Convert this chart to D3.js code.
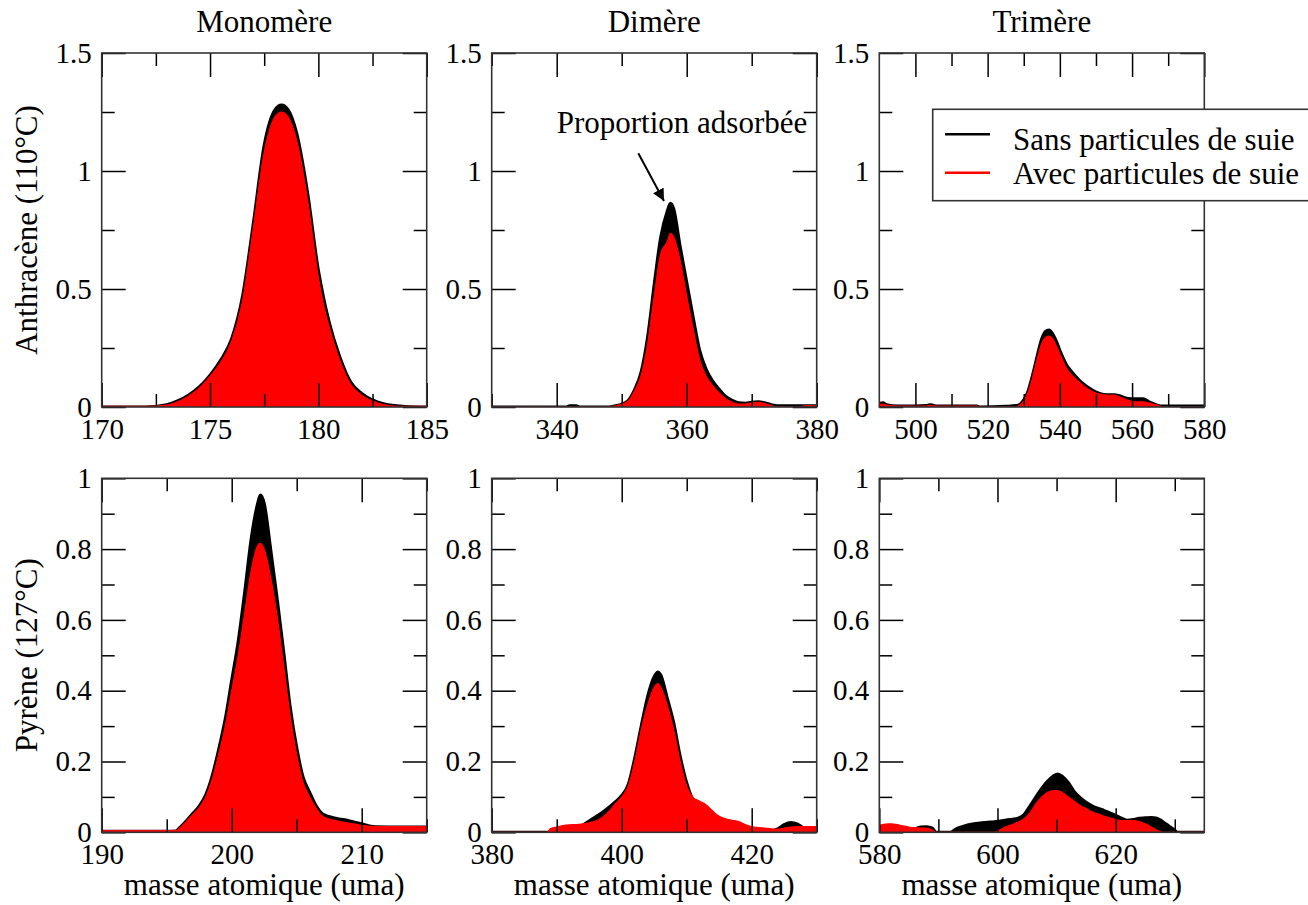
<!DOCTYPE html>
<html>
<head>
<meta charset="utf-8">
<script src="https://cdn.jsdelivr.net/npm/d3@7"></script>
<style>
  html, body { margin: 0; padding: 0; background: #fff; }
  svg { display: block; }
  text { font-family: "Liberation Serif", "Times New Roman", serif; fill: #000; }
</style>
</head>
<body>
<svg id="chart" width="1308" height="905"></svg>
<script>
// ---------------- DATA ----------------
const columnTitles = ["Monomère", "Dimère", "Trimère"];
const rowTitles = ["Anthracène (110°C)", "Pyrène (127°C)"];
const seriesNames = ["Sans particules de suie", "Avec particules de suie"];
const xAxisTitle = "masse atomique (uma)";
const annotationText = "Proportion adsorbée";

// Anthracène – monomère
const antMonoMass = [170, 172, 173, 173.5, 174, 174.5, 175, 175.5, 176, 176.5, 177, 177.5, 178, 178.3, 178.6, 179, 179.5, 180, 180.25, 180.5, 181, 181.5, 182, 182.5, 183, 183.5, 184, 185];
const antMonoSans = [0, 0, 0.01, 0.026, 0.05, 0.085, 0.135, 0.2, 0.29, 0.47, 0.78, 1.11, 1.26, 1.28, 1.26, 1.16, 0.91, 0.58, 0.46, 0.36, 0.21, 0.105, 0.058, 0.03, 0.014, 0.006, 0.002, 0];
const antMonoAvec = [0.003, 0.003, 0.008, 0.022, 0.046, 0.08, 0.13, 0.19, 0.28, 0.45, 0.76, 1.08, 1.23, 1.25, 1.23, 1.13, 0.88, 0.55, 0.43, 0.34, 0.195, 0.095, 0.05, 0.025, 0.01, 0.004, 0.003, 0.003];

// Anthracène – dimère
const antDimMass = [330, 341.5, 342, 343, 343.5, 348, 349, 350, 351, 352, 353, 354, 355, 356, 357, 357.5, 358, 359, 360, 361, 362, 363, 364, 365, 366, 367, 368, 369, 370, 371, 372, 373, 374, 377.5, 378, 380];
const antDimSans = [0, 0, 0.005, 0.005, 0, 0, 0.005, 0.012, 0.028, 0.075, 0.15, 0.3, 0.52, 0.72, 0.83, 0.863, 0.84, 0.68, 0.53, 0.38, 0.24, 0.16, 0.11, 0.075, 0.045, 0.028, 0.018, 0.016, 0.02, 0.022, 0.018, 0.01, 0.005, 0.005, 0.005, 0.005];
const antDimAvec = [0, 0, 0, 0, 0, 0, 0.005, 0.012, 0.025, 0.07, 0.135, 0.27, 0.47, 0.65, 0.7, 0.736, 0.72, 0.62, 0.47, 0.33, 0.2, 0.13, 0.09, 0.06, 0.035, 0.02, 0.012, 0.012, 0.018, 0.02, 0.015, 0.006, 0, 0, 0.005, 0.005];

// Anthracène – trimère
const antTriMass = [490, 491, 492, 495, 500, 503, 504, 505, 506, 510, 517, 518, 525, 528, 529, 530, 531, 532, 533, 534, 535, 536, 537, 538, 539, 540, 541, 542, 543, 545, 547, 549, 551, 553, 555, 557, 559, 561, 563, 565, 567, 568.5, 571, 579.5, 580];
const antTriSans = [0.015, 0.018, 0.01, 0.004, 0.004, 0.006, 0.01, 0.007, 0.004, 0.004, 0.004, 0, 0.003, 0.006, 0.012, 0.03, 0.06, 0.11, 0.17, 0.235, 0.29, 0.32, 0.326, 0.31, 0.28, 0.24, 0.205, 0.175, 0.155, 0.12, 0.092, 0.072, 0.058, 0.052, 0.052, 0.045, 0.036, 0.035, 0.035, 0.02, 0.008, 0.004, 0.004, 0.004, 0.004];
const antTriAvec = [0.01, 0.012, 0.008, 0.004, 0.004, 0.004, 0.007, 0.005, 0.004, 0.004, 0.004, 0, 0, 0, 0.01, 0.025, 0.055, 0.1, 0.16, 0.22, 0.27, 0.295, 0.3, 0.29, 0.26, 0.225, 0.19, 0.16, 0.14, 0.11, 0.085, 0.065, 0.055, 0.05, 0.05, 0.04, 0.028, 0.022, 0.022, 0.016, 0.008, 0, 0, 0, 0];

// Pyrène – monomère
const pyrMonoMass = [190, 195, 195.7, 196, 196.5, 197, 197.5, 198, 198.5, 199, 199.5, 200, 200.5, 201, 201.5, 202, 202.2, 202.5, 203, 203.5, 204, 204.5, 205, 205.5, 206, 206.5, 207, 208, 209, 210, 211, 213, 215];
const pyrMonoSans = [0.003, 0.003, 0.004, 0.013, 0.032, 0.053, 0.074, 0.106, 0.16, 0.235, 0.32, 0.43, 0.54, 0.68, 0.83, 0.93, 0.953, 0.93, 0.8, 0.66, 0.51, 0.355, 0.24, 0.155, 0.113, 0.075, 0.052, 0.04, 0.033, 0.024, 0.016, 0.015, 0.015];
const pyrMonoAvec = [0.005, 0.005, 0.005, 0.012, 0.03, 0.05, 0.07, 0.1, 0.15, 0.22, 0.3, 0.4, 0.5, 0.62, 0.74, 0.81, 0.816, 0.8, 0.72, 0.61, 0.47, 0.33, 0.22, 0.14, 0.1, 0.068, 0.045, 0.033, 0.026, 0.02, 0.016, 0.016, 0.016];

// Pyrène – dimère
const pyrDimMass = [380, 388.5, 389, 390, 391, 392, 393, 394, 395, 396, 397, 398, 399, 400, 401, 402, 403, 404, 405, 405.6, 406, 407, 408, 409, 410, 411, 412, 413, 414, 415, 416, 417, 418, 419, 420, 421, 422, 423, 424, 425, 426, 427, 428, 429, 430];
const pyrDimSans = [0, 0, 0, 0, 0, 0, 0, 0.02, 0.032, 0.044, 0.056, 0.07, 0.086, 0.104, 0.135, 0.21, 0.3, 0.385, 0.44, 0.453, 0.445, 0.38, 0.31, 0.215, 0.14, 0.09, 0.07, 0.055, 0.04, 0.03, 0.02, 0.015, 0.012, 0.01, 0.008, 0.006, 0.005, 0.005, 0.01, 0.022, 0.028, 0.024, 0.012, 0.005, 0];
const pyrDimAvec = [0, 0, 0.01, 0.015, 0.019, 0.021, 0.022, 0.024, 0.027, 0.032, 0.042, 0.058, 0.08, 0.1, 0.13, 0.2, 0.29, 0.36, 0.41, 0.42, 0.41, 0.36, 0.29, 0.2, 0.13, 0.098, 0.088, 0.077, 0.06, 0.045, 0.038, 0.034, 0.03, 0.022, 0.016, 0.013, 0.012, 0.01, 0.009, 0.012, 0.015, 0.016, 0.016, 0.016, 0.016];

// Pyrène – trimère
const pyrTriMass = [580, 581, 582, 583, 584, 585, 586, 587, 588, 589, 589.6, 592, 593, 594, 596, 598, 599.5, 600.5, 601.5, 602.5, 603.5, 604.5, 605.5, 606.5, 607.5, 608.5, 609.5, 610.2, 611, 612, 613, 614, 615, 616, 617, 618, 619, 620, 621, 622, 623, 624, 625, 626, 627, 628, 629, 630, 630.5, 635];
const pyrTriSans = [0, 0, 0, 0, 0, 0.005, 0.01, 0.015, 0.016, 0.012, 0, 0, 0.01, 0.016, 0.024, 0.028, 0.03, 0.032, 0.035, 0.037, 0.04, 0.05, 0.075, 0.1, 0.125, 0.145, 0.16, 0.165, 0.158, 0.14, 0.115, 0.098, 0.085, 0.075, 0.068, 0.062, 0.055, 0.048, 0.04, 0.034, 0.036, 0.04, 0.041, 0.042, 0.04, 0.03, 0.018, 0.006, 0, 0];
const pyrTriAvec = [0.02, 0.023, 0.024, 0.022, 0.018, 0.015, 0.013, 0.012, 0.012, 0.006, 0, 0, 0, 0, 0, 0, 0, 0.008, 0.016, 0.022, 0.029, 0.038, 0.055, 0.08, 0.1, 0.113, 0.118, 0.118, 0.112, 0.1, 0.088, 0.076, 0.067, 0.058, 0.052, 0.046, 0.041, 0.036, 0.033, 0.033, 0.033, 0.03, 0.024, 0.015, 0.006, 0, 0, 0, 0, 0];

// Axis ranges and ticks
const xDomainsTop = [[170, 185], [330, 380], [490, 580]];
const xDomainsBottom = [[190, 215], [380, 430], [580, 635]];
const xMajorTop = [[170, 175, 180, 185], [340, 360, 380], [500, 520, 540, 560, 580]];
const xMinorTop = [[172.5, 177.5, 182.5], [330, 350, 370], [510, 530, 550, 570]];
const xMajorBottom = [[190, 200, 210], [380, 400, 420], [580, 600, 620]];
const xMinorBottom = [[195, 205, 215], [390, 410, 430], [590, 610, 630]];
const yDomainTop = [0, 1.5];
const yDomainBottom = [0, 1];
const yMajorTop = [0, 0.5, 1, 1.5];
const yMinorTop = [0.25, 0.75, 1.25];
const yMajorBottom = [0, 0.2, 0.4, 0.6, 0.8, 1];
const yMinorBottom = [0.1, 0.3, 0.5, 0.7, 0.9];

// ---------------- LAYOUT ----------------
const svg = d3.select("#chart");
const colX = [101.7, 491.7, 879.3];
const panelW = 325;
const rowY = [53, 478.3];
const panelH = 354;
const colors = { sans: "#000000", avec: "#ff0000" };
const tickFont = 29, labelFont = 31;

const panels = [
  { r: 0, c: 0, mass: antMonoMass, sans: antMonoSans, avec: antMonoAvec, xd: xDomainsTop[0], xM: xMajorTop[0], xm: xMinorTop[0] },
  { r: 0, c: 1, mass: antDimMass, sans: antDimSans, avec: antDimAvec, xd: xDomainsTop[1], xM: xMajorTop[1], xm: xMinorTop[1] },
  { r: 0, c: 2, mass: antTriMass, sans: antTriSans, avec: antTriAvec, xd: xDomainsTop[2], xM: xMajorTop[2], xm: xMinorTop[2] },
  { r: 1, c: 0, mass: pyrMonoMass, sans: pyrMonoSans, avec: pyrMonoAvec, xd: xDomainsBottom[0], xM: xMajorBottom[0], xm: xMinorBottom[0] },
  { r: 1, c: 1, mass: pyrDimMass, sans: pyrDimSans, avec: pyrDimAvec, xd: xDomainsBottom[1], xM: xMajorBottom[1], xm: xMinorBottom[1] },
  { r: 1, c: 2, mass: pyrTriMass, sans: pyrTriSans, avec: pyrTriAvec, xd: xDomainsBottom[2], xM: xMajorBottom[2], xm: xMinorBottom[2] }
];

const fmt = d3.format("~g");

function styleAxis(g, showText) {
  g.attr("font-family", null).attr("font-size", null);
  g.select(".domain").remove();
  g.selectAll(".tick line").attr("stroke", "#000").attr("stroke-width", 1.5);
  g.selectAll(".tick text").style("font-size", tickFont + "px").attr("fill", "#000");
  if (!showText) g.selectAll(".tick text").remove();
}

panels.forEach((p, i) => {
  const x0 = colX[p.c], y0 = rowY[p.r];
  const yd = p.r === 0 ? yDomainTop : yDomainBottom;
  const yM = p.r === 0 ? yMajorTop : yMajorBottom;
  const ym = p.r === 0 ? yMinorTop : yMinorBottom;
  const x = d3.scaleLinear().domain(p.xd).range([0, panelW]);
  const y = d3.scaleLinear().domain(yd).range([panelH, 0]);
  const g = svg.append("g").attr("transform", `translate(${x0},${y0})`);

  svg.append("defs").append("clipPath").attr("id", "clip" + i)
    .append("rect").attr("x", 0).attr("y", 0).attr("width", panelW).attr("height", panelH);

  const plot = g.append("g").attr("clip-path", `url(#clip${i})`);
  const idx = d3.range(p.mass.length);
  const areaS = d3.area().curve(d3.curveMonotoneX).x(j => x(p.mass[j])).y0(y(0)).y1(j => y(p.sans[j]));
  const lineS = d3.line().curve(d3.curveMonotoneX).x(j => x(p.mass[j])).y(j => y(p.sans[j]));
  const areaA = d3.area().curve(d3.curveMonotoneX).x(j => x(p.mass[j])).y0(y(0)).y1(j => y(p.avec[j]));
  const lineA = d3.line().curve(d3.curveMonotoneX).x(j => x(p.mass[j])).y(j => y(p.avec[j]));

  plot.append("path").datum(idx).attr("d", areaS).attr("fill", colors.sans);
  plot.append("path").datum(idx).attr("d", lineS).attr("fill", "none").attr("stroke", colors.sans).attr("stroke-width", 3);
  plot.append("path").datum(idx).attr("d", areaA).attr("fill", colors.avec);
  plot.append("path").datum(idx).attr("d", lineA).attr("fill", "none").attr("stroke", colors.avec).attr("stroke-width", 1.2);

  // axes: bottom (labels), top, left (labels), right
  g.append("g").attr("transform", `translate(0,${panelH})`)
    .call(d3.axisBottom(x).tickValues(p.xM).tickSize(-24).tickPadding(11).tickFormat(fmt))
    .call(a => styleAxis(a, true));
  g.append("g").attr("transform", `translate(0,${panelH})`)
    .call(d3.axisBottom(x).tickValues(p.xm).tickSize(-13).tickFormat(""))
    .call(a => styleAxis(a, false));
  g.append("g")
    .call(d3.axisTop(x).tickValues(p.xM).tickSize(-24).tickFormat(""))
    .call(a => styleAxis(a, false));
  g.append("g")
    .call(d3.axisTop(x).tickValues(p.xm).tickSize(-13).tickFormat(""))
    .call(a => styleAxis(a, false));
  g.append("g")
    .call(d3.axisLeft(y).tickValues(yM).tickSize(-24).tickPadding(10).tickFormat(fmt))
    .call(a => styleAxis(a, true));
  g.append("g")
    .call(d3.axisLeft(y).tickValues(ym).tickSize(-13).tickFormat(""))
    .call(a => styleAxis(a, false));
  g.append("g").attr("transform", `translate(${panelW},0)`)
    .call(d3.axisRight(y).tickValues(yM).tickSize(-24).tickFormat(""))
    .call(a => styleAxis(a, false));
  g.append("g").attr("transform", `translate(${panelW},0)`)
    .call(d3.axisRight(y).tickValues(ym).tickSize(-13).tickFormat(""))
    .call(a => styleAxis(a, false));

  g.append("rect").attr("x", 0).attr("y", 0).attr("width", panelW).attr("height", panelH)
    .attr("fill", "none").attr("stroke", "#333").attr("stroke-width", 1.6);

  if (p.r === 0) {
    g.append("text").attr("x", panelW / 2).attr("y", 31.7 - y0).attr("text-anchor", "middle")
      .style("font-size", labelFont + "px").text(columnTitles[p.c]);
  } else {
    g.append("text").attr("x", panelW / 2).attr("y", 895 - y0).attr("text-anchor", "middle")
      .style("font-size", labelFont + "px").text(xAxisTitle);
  }
  if (p.c === 0) {
    g.append("text").attr("transform", `translate(${37 - x0},${panelH / 2}) rotate(-90)`)
      .attr("text-anchor", "middle").style("font-size", labelFont + "px").text(rowTitles[p.r]);
  }

  // annotation on Anthracène dimère
  if (p.r === 0 && p.c === 1) {
    g.append("text").attr("x", 556.7 - x0).attr("y", 133.3 - y0).style("font-size", labelFont + "px").text(annotationText);
    const defs = svg.append("defs");
    defs.append("marker").attr("id", "arrowhead").attr("viewBox", "0 0 10 10")
      .attr("refX", 10).attr("refY", 5).attr("markerWidth", 6).attr("markerHeight", 6)
      .attr("markerUnits", "strokeWidth").attr("orient", "auto")
      .append("path").attr("d", "M0,0 L10,5 L0,10 Z").attr("fill", "#000");
    g.append("line").attr("x1", 638.3 - x0).attr("y1", 153.3 - y0).attr("x2", 664 - x0).attr("y2", 201 - y0)
      .attr("stroke", "#000").attr("stroke-width", 2).attr("marker-end", "url(#arrowhead)");
  }
});

// legend
const leg = svg.append("g");
leg.append("rect").attr("x", 932.7).attr("y", 109.3).attr("width", 400).attr("height", 91.4)
  .attr("fill", "#fff").attr("stroke", "#333").attr("stroke-width", 1.6);
const legY = [134.3, 172.7];
const legBase = [149.5, 183.5];
[colors.sans, colors.avec].forEach((c, k) => {
  leg.append("line").attr("x1", 945).attr("x2", 990).attr("y1", legY[k]).attr("y2", legY[k])
    .attr("stroke", c).attr("stroke-width", 2.5);
  leg.append("text").attr("x", 1013).attr("y", legBase[k]).style("font-size", "31px").text(seriesNames[k]);
});
</script>
</body>
</html>
